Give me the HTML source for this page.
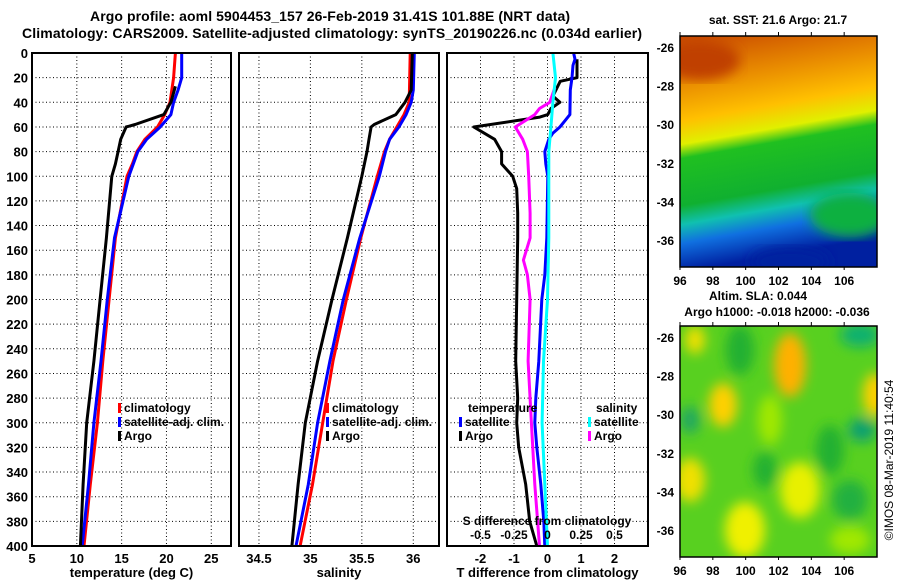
<!DOCTYPE html>
<html><head><meta charset="utf-8">
<style>
body{margin:0;background:#fff;}
svg{display:block;font-family:"Liberation Sans",sans-serif;font-weight:bold;}
</style></head>
<body>
<svg id="c" width="900" height="580" xmlns="http://www.w3.org/2000/svg">
<defs>
<linearGradient id="sstg" x1="0" y1="0" x2="0.15" y2="1">
<stop offset="0" stop-color="#c84800"/><stop offset="0.2" stop-color="#e88a00"/>
<stop offset="0.36" stop-color="#ffc000"/><stop offset="0.46" stop-color="#e0f000"/>
<stop offset="0.52" stop-color="#20c020"/><stop offset="0.72" stop-color="#10b030"/>
<stop offset="0.8" stop-color="#10c0b0"/><stop offset="0.88" stop-color="#1070e0"/>
<stop offset="1" stop-color="#0020a0"/></linearGradient>
<filter id="bl"><feGaussianBlur stdDeviation="6"/></filter>
<clipPath id="m1"><rect x="680" y="36" width="197" height="231"/></clipPath>
<clipPath id="m2"><rect x="680" y="326" width="197" height="231"/></clipPath>
</defs>
<g id="root"></g>
<text x="330" y="21" text-anchor="middle" font-size="14" textLength="480">Argo profile: aoml 5904453_157 26-Feb-2019 31.41S 101.88E (NRT data)</text>
<text x="332" y="38" text-anchor="middle" font-size="14" textLength="620">Climatology: CARS2009. Satellite-adjusted climatology: synTS_20190226.nc (0.034d earlier)</text>

<g>
<text x="778" y="24" text-anchor="middle" font-size="12">sat. SST: 21.6 Argo: 21.7</text>
<g clip-path="url(#m1)">
<rect x="680" y="36" width="197" height="231" fill="url(#sstg)"/>
<ellipse cx="850" cy="215" rx="40" ry="22" fill="#10b040" filter="url(#bl)"/>
<ellipse cx="790" cy="262" rx="40" ry="15" fill="#0020a0" filter="url(#bl)"/>
<ellipse cx="700" cy="60" rx="40" ry="20" fill="#c04000" filter="url(#bl)"/>
</g>
<rect x="680" y="36" width="197" height="231" fill="none" stroke="#000" stroke-width="1.5"/>
</g>
<g>
<text x="758" y="300" text-anchor="middle" font-size="12">Altim. SLA: 0.044</text>
<text x="777" y="316" text-anchor="middle" font-size="12">Argo h1000: -0.018 h2000: -0.036</text>
<g clip-path="url(#m2)">
<rect x="680" y="326" width="197" height="231" fill="#58d020"/>
<g filter="url(#bl)">
<ellipse cx="790" cy="365" rx="16" ry="32" fill="#ffb000"/>
<ellipse cx="723" cy="405" rx="14" ry="22" fill="#ffd000"/>
<ellipse cx="690" cy="480" rx="15" ry="22" fill="#f0e000"/>
<ellipse cx="800" cy="490" rx="20" ry="28" fill="#e8f000"/>
<ellipse cx="745" cy="530" rx="20" ry="28" fill="#f0f000"/>
<ellipse cx="875" cy="395" rx="12" ry="22" fill="#ffd000"/>
<ellipse cx="695" cy="340" rx="10" ry="14" fill="#f0e000"/>
<ellipse cx="860" cy="335" rx="20" ry="12" fill="#10b070"/>
<ellipse cx="862" cy="430" rx="14" ry="12" fill="#10a070"/>
<ellipse cx="690" cy="420" rx="10" ry="14" fill="#20a860"/>
<ellipse cx="770" cy="420" rx="12" ry="25" fill="#a0e800"/>
<ellipse cx="850" cy="540" rx="20" ry="14" fill="#a0e800"/>
<ellipse cx="740" cy="350" rx="14" ry="25" fill="#20b030"/>
<ellipse cx="830" cy="450" rx="14" ry="25" fill="#20b030"/>
<ellipse cx="765" cy="470" rx="12" ry="18" fill="#20b030"/>
<ellipse cx="850" cy="500" rx="18" ry="20" fill="#20b040"/>
</g>
</g>
<rect x="680" y="326" width="197" height="231" fill="none" stroke="#000" stroke-width="1.5"/>
</g>
<text transform="translate(893,460) rotate(-90)" text-anchor="middle" font-size="12" font-weight="normal">©IMOS 08-Mar-2019 11:40:54</text>
</svg>
<script>
// ---- data ----
const depthTicks=[0,20,40,60,80,100,120,140,160,180,200,220,240,260,280,300,320,340,360,380,400];
const tempTicks=[5,10,15,20,25];
const salTicks=[34.5,35,35.5,36];
const dTTicks=[-2,-1,0,1,2];
const dSTicks=[-0.5,-0.25,0,0.25,0.5];
const dSTickLabels=["-0.5","-0.25","0","0.25","0.5"];
const lat1Ticks=[-26,-28,-30,-32,-34,-36];
const lonTicks=[96,98,100,102,104,106];

const tClimDepth=[0,20,40,50,60,70,80,90,100,150,200,250,300,350,400];
const tClim=[21.0,20.8,20.4,19.8,19.0,17.6,16.7,16.2,15.6,14.3,13.6,12.9,12.3,11.5,10.8];
const tSatDepth=[0,20,30,40,50,60,70,80,100,150,200,250,300,350,400];
const tSat=[21.7,21.7,21.3,20.8,20.5,19.3,17.8,16.8,15.8,14.2,13.4,12.7,11.9,11.3,10.6];
const tArgoDepth=[27,40,50,58,60,70,80,90,100,150,200,250,300,350,400];
const tArgo=[21.0,20.5,19.7,16.5,15.5,14.9,14.6,14.3,13.9,13.3,12.6,11.9,11.1,10.7,10.4];

const sClimDepth=[0,40,50,60,70,80,100,150,200,250,300,350,400];
const sClim=[35.97,35.96,35.91,35.84,35.77,35.72,35.65,35.49,35.35,35.22,35.12,35.02,34.90];
const sSatDepth=[0,30,40,50,60,70,80,100,150,200,250,300,350,400];
const sSat=[36.01,36.0,35.98,35.93,35.86,35.77,35.73,35.67,35.48,35.32,35.19,35.07,34.98,34.86];
const sArgoDepth=[0,30,40,50,58,60,70,80,100,150,200,250,300,350,400];
const sArgo=[35.99,35.98,35.92,35.83,35.62,35.59,35.57,35.55,35.50,35.36,35.21,35.07,34.95,34.88,34.82];

const dTSatDepth=[0,5,10,20,30,50,55,60,65,70,80,90,100,150,180,200,250,280,300,320,350,380,400];
const dTSat=[0.78,0.82,0.76,0.73,0.68,0.67,0.52,0.37,0.16,0.04,-0.08,-0.05,0.01,-0.02,-0.08,-0.17,-0.26,-0.35,-0.38,-0.32,-0.2,-0.11,-0.08];
const dSSatDepth=[0,20,40,60,80,100,150,200,250,300,350,400];
const dSSat=[0.04,0.06,0.04,0.025,0.01,0.01,0.01,0.0,-0.03,-0.04,-0.02,0.0];
const dTArgoDepth=[5,20,23,35,40,45,50,52,60,70,80,90,100,110,130,150,200,250,280,300,320,350,380,400];
const dTArgo=[0.88,0.88,0.38,0.16,0.37,0.1,0.01,-0.23,-2.2,-1.58,-1.37,-1.37,-1.04,-0.92,-0.89,-0.89,-0.92,-0.95,-0.89,-0.92,-0.86,-0.65,-0.53,-0.32];
const dSArgoDepth=[28,40,45,50,60,70,80,100,130,150,168,180,200,250,300,350,400];
const dSArgo=[0.055,0.017,-0.06,-0.095,-0.24,-0.185,-0.15,-0.14,-0.13,-0.13,-0.18,-0.15,-0.13,-0.145,-0.12,-0.095,-0.06];

// ---- scales ----
const Y0=53,Y1=546;
const yD=d=>Y0+(d/400)*(Y1-Y0);
const P1={l:32,r:231,min:5,max:27.2};
const P2={l:239,r:439,min:34.306,max:36.25};
const P3={l:447,r:648,min:-3,max:3};
const sx=(p,v)=>p.l+(v-p.min)/(p.max-p.min)*(p.r-p.l);
const sxS=v=>sx(P3,v*4);
const NS="http://www.w3.org/2000/svg";
const root=document.getElementById('root');
function el(tag,attrs,parent){const e=document.createElementNS(NS,tag);for(const k in attrs)e.setAttribute(k,attrs[k]);(parent||root).appendChild(e);return e;}
function txt(x,y,s,anchor,size,parent){const t=el('text',{x:x,y:y,'text-anchor':anchor||'middle','font-size':size||12},parent);t.textContent=s;return t;}

function panel(p,name,xt,xlab,label){
  const g=el('g',{});
  
  
  depthTicks.forEach(d=>{
    if(d>0&&d<400){const l=el('line',{x1:p.l,x2:p.r,y1:yD(d),y2:yD(d),stroke:'#000','stroke-width':1,'stroke-dasharray':'1,2.5'},g);
    
    }
  });
  xt.forEach((v,i)=>{
    const x=sx(p,v);
    if(x>p.l+2&&x<p.r-2){const l=el('line',{x1:x,x2:x,y1:Y0,y2:Y1,stroke:'#000','stroke-width':1,'stroke-dasharray':'1,2.5'},g);
    
    }
    if(xlab){const t=txt(x,563,xlab[i],'middle',13,g);
    
    }
  });
  const t=txt((p.l+p.r)/2,577,label,'middle',13,g);
  
  
  return g;
}
function frame(p,g){const r=el('rect',{x:p.l,y:Y0,width:p.r-p.l,height:Y1-Y0,fill:'none',stroke:'#000','stroke-width':2},g);
  
  }
function line(depths,vals,xf,color,name,g){
  const pts=depths.map((d,i)=>xf(vals[i]).toFixed(1)+','+yD(d).toFixed(1)).join(' ');
  const l=el('polyline',{points:pts,fill:'none',stroke:color,'stroke-width':3,'stroke-linejoin':'round'},g);
  
  
}
function legend(x,y,items,g){
  items.forEach((it,i)=>{
    const yy=y+i*14;
    const r=el('rect',{x:x,y:yy-9,width:3,height:10,fill:it[1]},g);
    
    
    const t=txt(x+6,yy,it[0],'start',12,g);
    
    
  });
}

depthTicks.forEach(d=>{const t=txt(28,yD(d)+5,String(d),'end',13);
  
  });

const g1=panel(P1,'temperature-panel',tempTicks,tempTicks.map(String),'temperature (deg C)');
line(tClimDepth,tClim,v=>sx(P1,v),'#ff0000','climatology-temp-line',g1);
line(tSatDepth,tSat,v=>sx(P1,v),'#0000ff','satellite-temp-line',g1);
line(tArgoDepth,tArgo,v=>sx(P1,v),'#000000','argo-temp-line',g1);
legend(118,412,[['climatology','#f00'],['satellite-adj. clim.','#00f'],['Argo','#000']],g1);
frame(P1,g1);

const g2=panel(P2,'salinity-panel',salTicks,salTicks.map(String),'salinity');
line(sClimDepth,sClim,v=>sx(P2,v),'#ff0000','climatology-sal-line',g2);
line(sSatDepth,sSat,v=>sx(P2,v),'#0000ff','satellite-sal-line',g2);
line(sArgoDepth,sArgo,v=>sx(P2,v),'#000000','argo-sal-line',g2);
legend(326,412,[['climatology','#f00'],['satellite-adj. clim.','#00f'],['Argo','#000']],g2);
frame(P2,g2);

const g3=panel(P3,'difference-panel',dTTicks,dTTicks.map(String),'T difference from climatology');
line(dTArgoDepth,dTArgo,v=>sx(P3,v),'#000000','argo-t-diff-line',g3);
line(dSArgoDepth,dSArgo,sxS,'#ff00ff','argo-s-diff-line',g3);
line(dTSatDepth,dTSat,v=>sx(P3,v),'#0000ff','satellite-t-diff-line',g3);
line(dSSatDepth,dSSat,sxS,'#00ffff','satellite-s-diff-line',g3);
{const t=txt(468,412,'temperature','start',12,g3);
 
 
 const t2=txt(596,412,'salinity','start',12,g3);
 
 }
legend(459,426,[['satellite','#00f'],['Argo','#000']],g3);
legend(588,426,[['satellite','#0ff'],['Argo','#f0f']],g3);
{const t=txt(547,525,'S difference from climatology','middle',12,g3);
 
 }
dSTicks.forEach((v,i)=>{const t=txt(sxS(v),539,dSTickLabels[i],'middle',12,g3);
  
  });
frame(P3,g3);

function mapAxes(top,bot,latY0,latY1){
  lat1Ticks.forEach(v=>{const y=latY0+(v+26)/(-10)*(latY1-latY0);
    const t=txt(674,y+5,String(v),'end',12);
    
    
    el('line',{x1:680,x2:684,y1:y,y2:y,stroke:'#000'});
    el('line',{x1:873,x2:877,y1:y,y2:y,stroke:'#000'});
  });
  lonTicks.forEach(v=>{const x=680+(v-96)/12*197;
    const t=txt(x,bot+18,String(v),'middle',12);
    
    
    el('line',{x1:x,x2:x,y1:top-4,y2:top,stroke:'#000'});
    el('line',{x1:x,x2:x,y1:bot,y2:bot+3,stroke:'#000'});
  });
}
mapAxes(36,267,47,240);
mapAxes(326,557,337,530);
</script>
</body></html>
